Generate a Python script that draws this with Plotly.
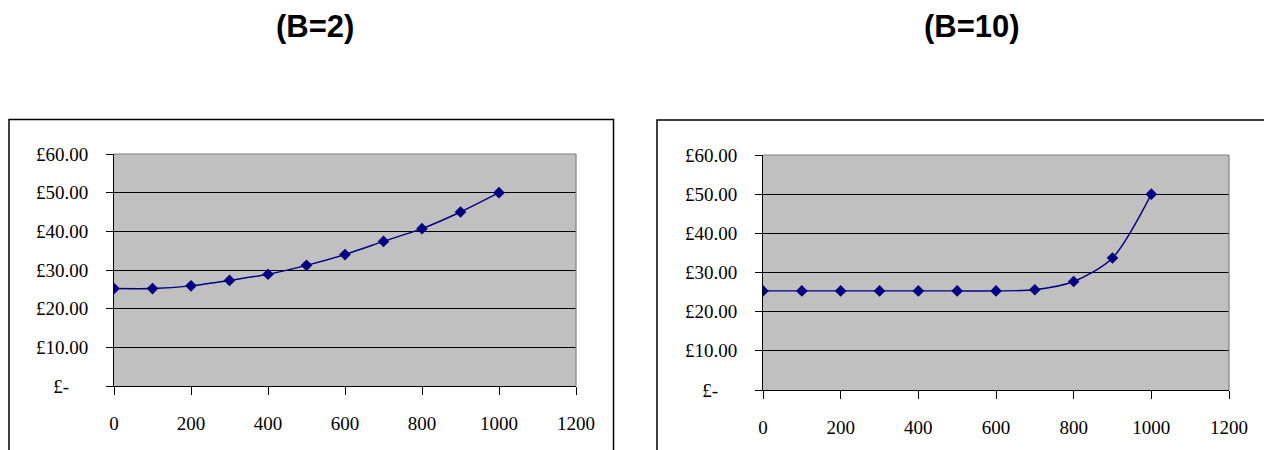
import plotly.graph_objects as go

# ---- data ----
quantity = [0, 100, 200, 300, 400, 500, 600, 700, 800, 900, 1000]
price_b2 = [25.2, 25.2, 25.9, 27.3, 28.9, 31.2, 34.0, 37.4, 40.7, 45.0, 50.0]
price_b10 = [25.3, 25.3, 25.3, 25.3, 25.3, 25.3, 25.3, 25.6, 27.7, 33.7, 50.0]
titles = ["(B=2)", "(B=10)"]
y_tickvals = [0, 10, 20, 30, 40, 50, 60]
y_ticktext = ["£-\u00a0\u00a0\u00a0\u00a0", "£10.00", "£20.00", "£30.00", "£40.00", "£50.00", "£60.00"]
x_tickvals = [0, 200, 400, 600, 800, 1000, 1200]

W, H = 1272, 450
OFF = 8  # page body margin offset
NAVY = "#000080"


def px_x(p):
    return (p - OFF) / W


def px_y(p):
    return 1 - (p - OFF) / H


fig = go.Figure()

fig.add_trace(go.Scatter(
    x=quantity, y=price_b2, mode="lines+markers",
    line=dict(color=NAVY, width=1.4, shape="spline", smoothing=0.6),
    marker=dict(symbol="diamond", size=9, color=NAVY),
    xaxis="x", yaxis="y", showlegend=False, hoverinfo="x+y"))
fig.add_trace(go.Scatter(
    x=quantity, y=price_b10, mode="lines+markers",
    line=dict(color=NAVY, width=1.4, shape="spline", smoothing=0.8),
    marker=dict(symbol="diamond", size=9, color=NAVY),
    xaxis="x2", yaxis="y2", showlegend=False, hoverinfo="x+y"))

tickfont = dict(family="Liberation Serif, Times New Roman, serif", size=19, color="black")

xcommon = dict(range=[0, 1200], tickvals=x_tickvals, showgrid=False, zeroline=False,
               showline=True, linecolor="black", linewidth=1,
               ticks="outside", ticklen=8, tickcolor="black", tickwidth=1,
               tickfont=tickfont, ticklabelstandoff=12, fixedrange=True,
               automargin=False)
ycommon = dict(range=[0, 60], tickvals=y_tickvals, ticktext=y_ticktext,
               showgrid=True, gridcolor="black", gridwidth=1, zeroline=False,
               showline=True, linecolor="black", linewidth=1,
               ticks="outside", ticklen=7, tickcolor="black", tickwidth=1,
               tickfont=tickfont, ticklabelstandoff=14, fixedrange=True,
               automargin=False)

dom1x = [px_x(114), px_x(576)]
dom1y = [px_y(386), px_y(154)]
dom2x = [px_x(763), px_x(1229)]
dom2y = [px_y(390), px_y(155)]

fig.update_layout(
    width=W, height=H, autosize=False,
    margin=dict(l=0, r=0, t=0, b=0, pad=0, autoexpand=False),
    paper_bgcolor="white",
    plot_bgcolor="#C0C0C0",
    xaxis=dict(domain=dom1x, anchor="y", **xcommon),
    yaxis=dict(domain=dom1y, anchor="x", **ycommon),
    xaxis2=dict(domain=dom2x, anchor="y2", **xcommon),
    yaxis2=dict(domain=dom2y, anchor="x2", **ycommon),
)

shapes = []
# outer chart boxes (extend below the visible window)
shapes.append(dict(type="rect", xref="paper", yref="paper",
                   x0=px_x(9), x1=px_x(613.5), y0=-0.2, y1=px_y(119.5),
                   line=dict(color="black", width=1.5), fillcolor="rgba(0,0,0,0)", layer="below"))
shapes.append(dict(type="rect", xref="paper", yref="paper",
                   x0=px_x(657), x1=px_x(1268), y0=-0.2, y1=px_y(120),
                   line=dict(color="black", width=1.5), fillcolor="rgba(0,0,0,0)", layer="below"))
# gray top/right plot-area borders
for xr, yr in (("x", "y"), ("x2", "y2")):
    shapes.append(dict(type="line", xref=f"{xr} domain", yref=f"{yr} domain",
                       x0=1, x1=1, y0=0, y1=1, line=dict(color="#808080", width=1.2)))
    shapes.append(dict(type="line", xref=f"{xr} domain", yref=f"{yr} domain",
                       x0=0, x1=1, y0=1, y1=1, line=dict(color="#808080", width=1.2)))
fig.update_layout(shapes=shapes)

titlefont = dict(family="Liberation Sans, Arial, sans-serif", size=31, color="black")
fig.add_annotation(text="<b>" + titles[0] + "</b>", xref="paper", yref="paper",
                   x=px_x(315), y=px_y(26), xanchor="center", yanchor="middle",
                   showarrow=False, font=titlefont)
fig.add_annotation(text="<b>" + titles[1] + "</b>", xref="paper", yref="paper",
                   x=px_x(972), y=px_y(26), xanchor="center", yanchor="middle",
                   showarrow=False, font=titlefont)

fig.write_html("out.html")
